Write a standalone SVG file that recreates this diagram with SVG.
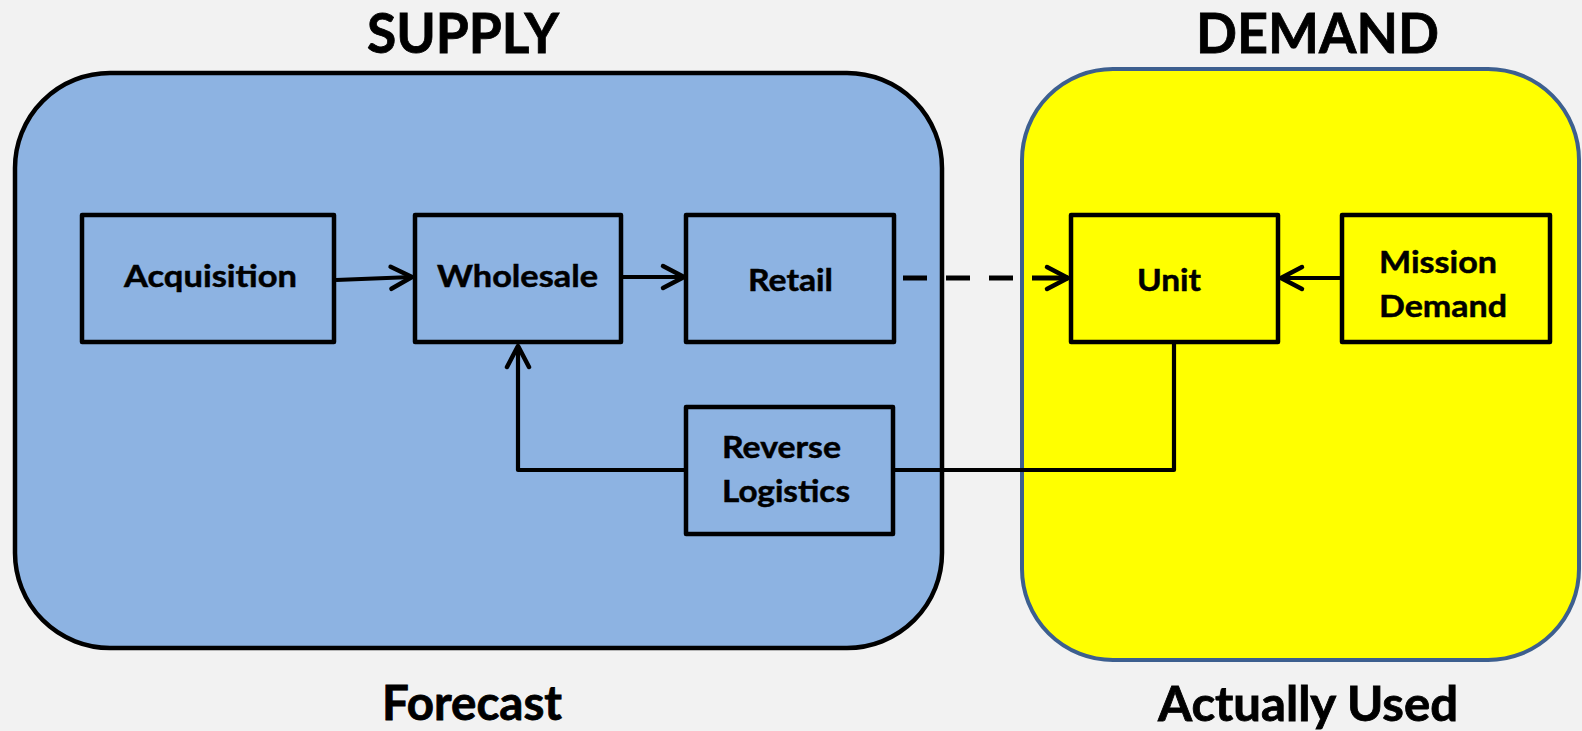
<svg xmlns="http://www.w3.org/2000/svg" width="1582" height="731" viewBox="0 0 1582 731">
  <style>
    .bg { fill: #f2f2f2; }
    .title { font-family: "Lato", "Liberation Sans", sans-serif; font-weight: 700; fill: #000; stroke: #000; stroke-width: 0.8; }
    .h1 { font-size: 56px; }
    .h2 { font-size: 47px; }
    .lbl { font-family: "Lato", "Liberation Sans", sans-serif; font-weight: 700; font-size: 31px; fill: #000; stroke: #000; stroke-width: 0.5; }
    .node { stroke: #000; stroke-width: 4.5; stroke-linejoin: round; }
    .supply-fill { fill: #8db3e2; }
    .demand-fill { fill: #ffff00; }
    .edge { fill: none; stroke: #000; stroke-width: 4.2; stroke-linejoin: round; }
    .dash { stroke-width: 5; stroke-dasharray: 24 19 24 19 24 19 60; }
  </style>
  <defs>
    <marker id="open-arrow" markerUnits="userSpaceOnUse" markerWidth="30" markerHeight="30" viewBox="-26 -15 30 30" refX="0" refY="0" orient="auto">
      <path d="M -21 -11 L 0 0 L -21 11" fill="none" stroke="#000" stroke-width="4.5" stroke-linecap="round" stroke-linejoin="round"/>
    </marker>
  </defs>

  <rect class="bg" x="0" y="0" width="1582" height="731"/>

  <!-- region containers -->
  <g id="supply-region">
    <rect x="15" y="73" width="927" height="575" rx="95" ry="95" fill="#8db3e2" stroke="#000" stroke-width="4.5"/>
    <text class="title h1" x="367" y="53" textLength="192" lengthAdjust="spacingAndGlyphs">SUPPLY</text>
    <text class="title h2" x="382" y="720" textLength="180" lengthAdjust="spacingAndGlyphs">Forecast</text>
  </g>
  <g id="demand-region">
    <rect x="1022" y="69" width="557" height="591" rx="91" ry="91" fill="#ffff00" stroke="#3d5f8f" stroke-width="4"/>
    <text class="title h1" x="1196" y="53" textLength="243" lengthAdjust="spacingAndGlyphs">DEMAND</text>
    <text class="title h2" x="1158" y="721" textLength="300" lengthAdjust="spacingAndGlyphs">Actually Used</text>
  </g>

  <!-- connectors -->
  <g id="connectors">
    <path class="edge" d="M 336 280 L 412 277" marker-end="url(#open-arrow)"/>
    <path class="edge" d="M 623 277 L 684 277" marker-end="url(#open-arrow)"/>
    <path class="edge dash" d="M 903 278 L 1068 278" marker-end="url(#open-arrow)"/>
    <path class="edge" d="M 1342 278 L 1281 278" marker-end="url(#open-arrow)"/>
    <path class="edge" d="M 1174 344 V 470 H 894"/>
    <path class="edge" d="M 686 470 H 518 V 346" marker-end="url(#open-arrow)"/>
  </g>

  <!-- nodes -->
  <g id="acquisition">
    <rect class="node supply-fill" x="82" y="215" width="252" height="127"/>
    <text class="lbl" x="124" y="287" textLength="173" lengthAdjust="spacingAndGlyphs">Acquisition</text>
  </g>
  <g id="wholesale">
    <rect class="node supply-fill" x="415" y="215" width="206" height="127"/>
    <text class="lbl" x="437" y="287" textLength="161" lengthAdjust="spacingAndGlyphs">Wholesale</text>
  </g>
  <g id="retail">
    <rect class="node supply-fill" x="686" y="215" width="208" height="127"/>
    <text class="lbl" x="748" y="291" textLength="85" lengthAdjust="spacingAndGlyphs">Retail</text>
  </g>
  <g id="reverse-logistics">
    <rect class="node supply-fill" x="686" y="407" width="207" height="127"/>
    <text class="lbl" x="722" y="458" textLength="119" lengthAdjust="spacingAndGlyphs">Reverse</text>
    <text class="lbl" x="722" y="502" textLength="128" lengthAdjust="spacingAndGlyphs">Logistics</text>
  </g>
  <g id="unit">
    <rect class="node demand-fill" x="1071" y="215" width="207" height="127"/>
    <text class="lbl" x="1137" y="291" textLength="64" lengthAdjust="spacingAndGlyphs">Unit</text>
  </g>
  <g id="mission-demand">
    <rect class="node demand-fill" x="1342" y="215" width="208" height="127"/>
    <text class="lbl" x="1379" y="273" textLength="118" lengthAdjust="spacingAndGlyphs">Mission</text>
    <text class="lbl" x="1379" y="317" textLength="128" lengthAdjust="spacingAndGlyphs">Demand</text>
  </g>
</svg>
